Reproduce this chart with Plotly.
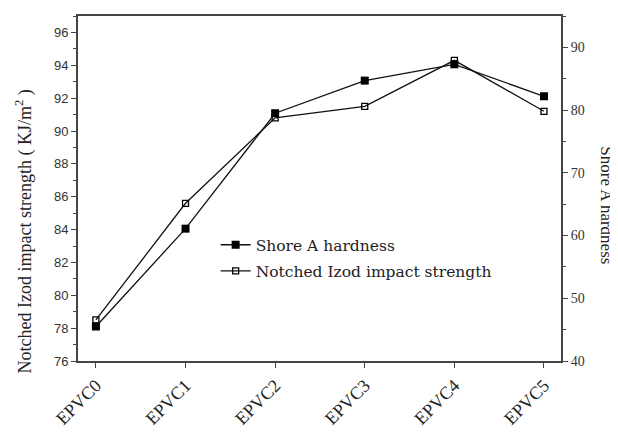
import plotly.graph_objects as go

categories = ["EPVC0", "EPVC1", "EPVC2", "EPVC3", "EPVC4", "EPVC5"]
shore_a_hardness = [45.5, 61.1, 79.5, 84.7, 87.3, 82.2]
impact_strength = [78.5, 85.6, 90.8, 91.5, 94.3, 91.2]
left_ticks = [76, 78, 80, 82, 84, 86, 88, 90, 92, 94, 96]
right_ticks = [40, 50, 60, 70, 80, 90]

xpos = list(range(len(categories)))
serif = "Liberation Serif, Times New Roman, serif"
wide_serif = "DejaVu Serif, serif"
sans = "Liberation Sans, Arial, sans-serif"
axcol = "#444444"

fig = go.Figure()
fig.add_trace(go.Scatter(
    x=xpos, y=shore_a_hardness, name="Shore A hardness", yaxis="y2",
    mode="lines+markers", legendgroup="a",
    line=dict(color="#111111", width=1.3),
    marker=dict(symbol="square", size=8, color="#000000"),
))
fig.add_trace(go.Scatter(
    x=xpos, y=impact_strength, name="Notched Izod impact strength", yaxis="y",
    mode="lines+markers", legendgroup="b",
    line=dict(color="#111111", width=1.3),
    marker=dict(symbol="square-open", size=6, color="#000000", line=dict(width=1.3)),
))

fig.update_layout(
    width=610, height=427,
    margin=dict(l=70, r=57, t=6, b=64),
    plot_bgcolor="white", paper_bgcolor="white",
    showlegend=True,
    legend=dict(x=0.285, y=0.385, xanchor="left", yanchor="top",
                bgcolor="rgba(0,0,0,0)", font=dict(family=wide_serif, size=15.5, color="#222"),
                tracegroupgap=3, itemwidth=30),
    xaxis=dict(
        range=[-0.2, 5.19], tickvals=xpos, ticktext=categories,
        tickangle=-45, ticks="outside", ticklen=5, tickcolor=axcol,
        showline=True, linecolor=axcol, linewidth=2, mirror=True,
        showgrid=False, zeroline=False,
        tickfont=dict(family=serif, size=18, color="#222"),
    ),
    yaxis=dict(
        range=[76, 97], tickvals=left_ticks, ticks="outside", ticklen=5,
        tickcolor=axcol, showline=True, linecolor=axcol, linewidth=2,
        showgrid=False, zeroline=False,
        tickfont=dict(family=sans, size=13, color="#333"),
        minor=dict(dtick=1, ticks="outside", ticklen=3, tickcolor=axcol, showgrid=False),
    ),
    yaxis2=dict(
        range=[40, 95], tickvals=right_ticks, overlaying="y", side="right",
        ticks="outside", ticklen=5, tickcolor=axcol, showline=True,
        linecolor=axcol, linewidth=2, showgrid=False, zeroline=False,
        tickfont=dict(family=serif, size=14, color="#333"),
        minor=dict(dtick=5, ticks="outside", ticklen=3, tickcolor=axcol, showgrid=False),
    ),
    annotations=[
        dict(text="Shore A hardness", textangle=90, xref="paper", yref="paper",
             x=1.094, y=0.45, xanchor="center", yanchor="middle", showarrow=False,
             font=dict(family=serif, size=17, color="#222")),
        dict(text="Notched Izod impact strength ( KJ/m<sup>2</sup> )", textangle=-90,
             xref="paper", yref="paper", x=-0.112, y=0.375,
             xanchor="center", yanchor="middle", showarrow=False,
             font=dict(family=serif, size=18, color="#222")),
    ],
)

fig.write_html("out.html")
